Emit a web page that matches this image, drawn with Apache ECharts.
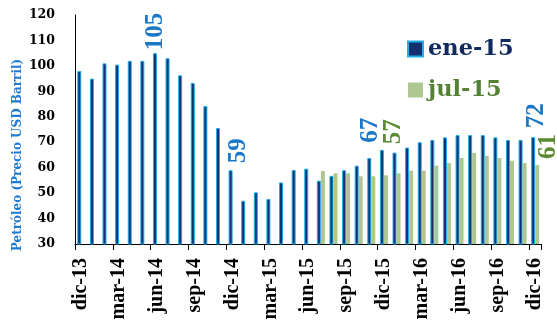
<!DOCTYPE html>
<html>
<head>
<meta charset="utf-8">
<script src="https://cdn.jsdelivr.net/npm/echarts@6/dist/echarts.min.js"></script>
<style>html,body{margin:0;padding:0;background:#fff}#c{width:557px;height:323px}</style>
</head>
<body>
<div id="c"></div>
<script>
const categories = ['dic-13','ene-14','feb-14','mar-14','abr-14','may-14','jun-14','jul-14','ago-14','sep-14','oct-14','nov-14',
  'dic-14','ene-15','feb-15','mar-15','abr-15','may-15','jun-15','jul-15','ago-15','sep-15','oct-15','nov-15',
  'dic-15','ene-16','feb-16','mar-16','abr-16','may-16','jun-16','jul-16','ago-16','sep-16','oct-16','nov-16','dic-16'];
const ene15 = [98, 95, 101, 100.5, 102, 102, 105, 103, 96.3, 93.3, 84.2, 75.6,
  59, 47, 50.3, 47.7, 54.2, 59.1, 59.6, 54.9, 56.8, 59, 60.8, 63.8,
  67, 65.9, 67.9, 70, 70.9, 71.9, 72.8, 72.8, 72.8, 71.9, 70.9, 70.9, 72];
const jul15Start = 'jul-15';
const jul15 = [58.7, 57.8, 57.8, 56.6, 56.6, 57, 57.8, 58.8, 58.8, 60.8, 61.8, 63.8,
  65.8, 64.7, 63.8, 62.7, 61.8, 61];
const yTicks = [30, 40, 50, 60, 70, 80, 90, 100, 110, 120];
const seriesNames = ['ene-15', 'jul-15'];
const labeledEne = ['jun-14', 'dic-14', 'dic-15', 'dic-16'];
const labeledJul = ['dic-15', 'dic-16'];
const yTitle = 'Petróleo (Precio USD Barril)';

// label placement (style only): [shift right px, gap above bar px]
const eneLabelPlace = { 'jun-14': [1, 3], 'dic-14': [8, 7], 'dic-15': [-11, 7], 'dic-16': [3, 9] };
const julLabelPlace = { 'dic-15': [8, 31], 'dic-16': [11, 6] };

const BLUE_LBL = '#1B78C8', GREEN_LBL = '#5A8A32';
const BAR_W = 4;
const startIdx = categories.indexOf(jul15Start);
const julData = categories.map((c, i) => i < startIdx ? null : jul15[i - startIdx]);

const labelItems = [];
labeledEne.forEach(c => { const i = categories.indexOf(c); labelItems.push([i, ene15[i], 0]); });
labeledJul.forEach(c => { const i = categories.indexOf(c); labelItems.push([i, jul15[i - startIdx], 1]); });

const chart = echarts.init(document.getElementById('c'), null, { renderer: 'canvas' });
chart.setOption({
  animation: false,
  grid: { left: 75, right: 15.5, top: 15, bottom: 79, containLabel: false },
  legend: {
    orient: 'vertical', left: 402, top: 31, itemWidth: 15, itemHeight: 15, itemGap: 15,
    icon: 'rect',
    textStyle: { fontFamily: 'DejaVu Serif', fontWeight: 'bold', fontSize: 22.5, lineHeight: 26 },
    data: [
      { name: seriesNames[0], textStyle: { color: '#0F2A5E' } },
      { name: seriesNames[1], textStyle: { color: '#548235' } }
    ]
  },
  xAxis: {
    type: 'category', data: categories, boundaryGap: true,
    axisLine: { lineStyle: { color: '#000', width: 1 } },
    axisTick: { show: true, interval: 2, length: 6, alignWithLabel: false, lineStyle: { color: '#000' } },
    axisLabel: { interval: 2, rotate: 90, margin: 14, color: '#000', fontFamily: 'Liberation Serif', fontWeight: 'bold', fontSize: 20 },
    splitLine: { show: false }
  },
  yAxis: {
    type: 'value', min: yTicks[0], max: yTicks[yTicks.length - 1], interval: 10,
    axisLine: { show: true, lineStyle: { color: '#000', width: 1 } },
    axisTick: { show: false },
    axisLabel: { margin: 20, color: '#000', fontFamily: 'DejaVu Serif', fontWeight: 'bold', fontSize: 12.5 },
    splitLine: { show: false }
  },
  graphic: [{
    type: 'text', x: 18, y: 155, rotation: Math.PI / 2,
    style: { text: yTitle, align: 'center', verticalAlign: 'middle', fill: '#1E7BD0',
      fontFamily: 'DejaVu Serif', fontWeight: 'bold', fontSize: 12 }
  }],
  series: [
    { name: seriesNames[0], type: 'bar', data: ene15, barWidth: BAR_W, barGap: '0%',
      itemStyle: { color: '#13306F', borderColor: '#22AEEC', borderWidth: 1 } },
    { name: seriesNames[1], type: 'bar', data: julData, barWidth: BAR_W, barGap: '0%',
      itemStyle: { color: '#AEC690' } },
    { name: 'labels', type: 'custom', data: labelItems, clip: false, silent: true, z: 10,
      encode: { x: 0, y: 1 },
      renderItem: function (params, api) {
        const ci = api.value(0), v = api.value(1), s = api.value(2);
        const pt = api.coord([ci, v]);
        const cx = pt[0] + (s === 0 ? -BAR_W / 2 : BAR_W / 2);
        const place = s === 0 ? eneLabelPlace[categories[ci]] : julLabelPlace[categories[ci]];
        return {
          type: 'text', x: cx + place[0], y: pt[1] - place[1], rotation: Math.PI / 2,
          style: { text: String(Math.round(v)), fill: s === 0 ? BLUE_LBL : GREEN_LBL,
            fontFamily: 'Liberation Serif', fontWeight: 'bold', fontSize: 25,
            align: 'left', verticalAlign: 'middle' }
        };
      }
    }
  ]
});
</script>
</body>
</html>
